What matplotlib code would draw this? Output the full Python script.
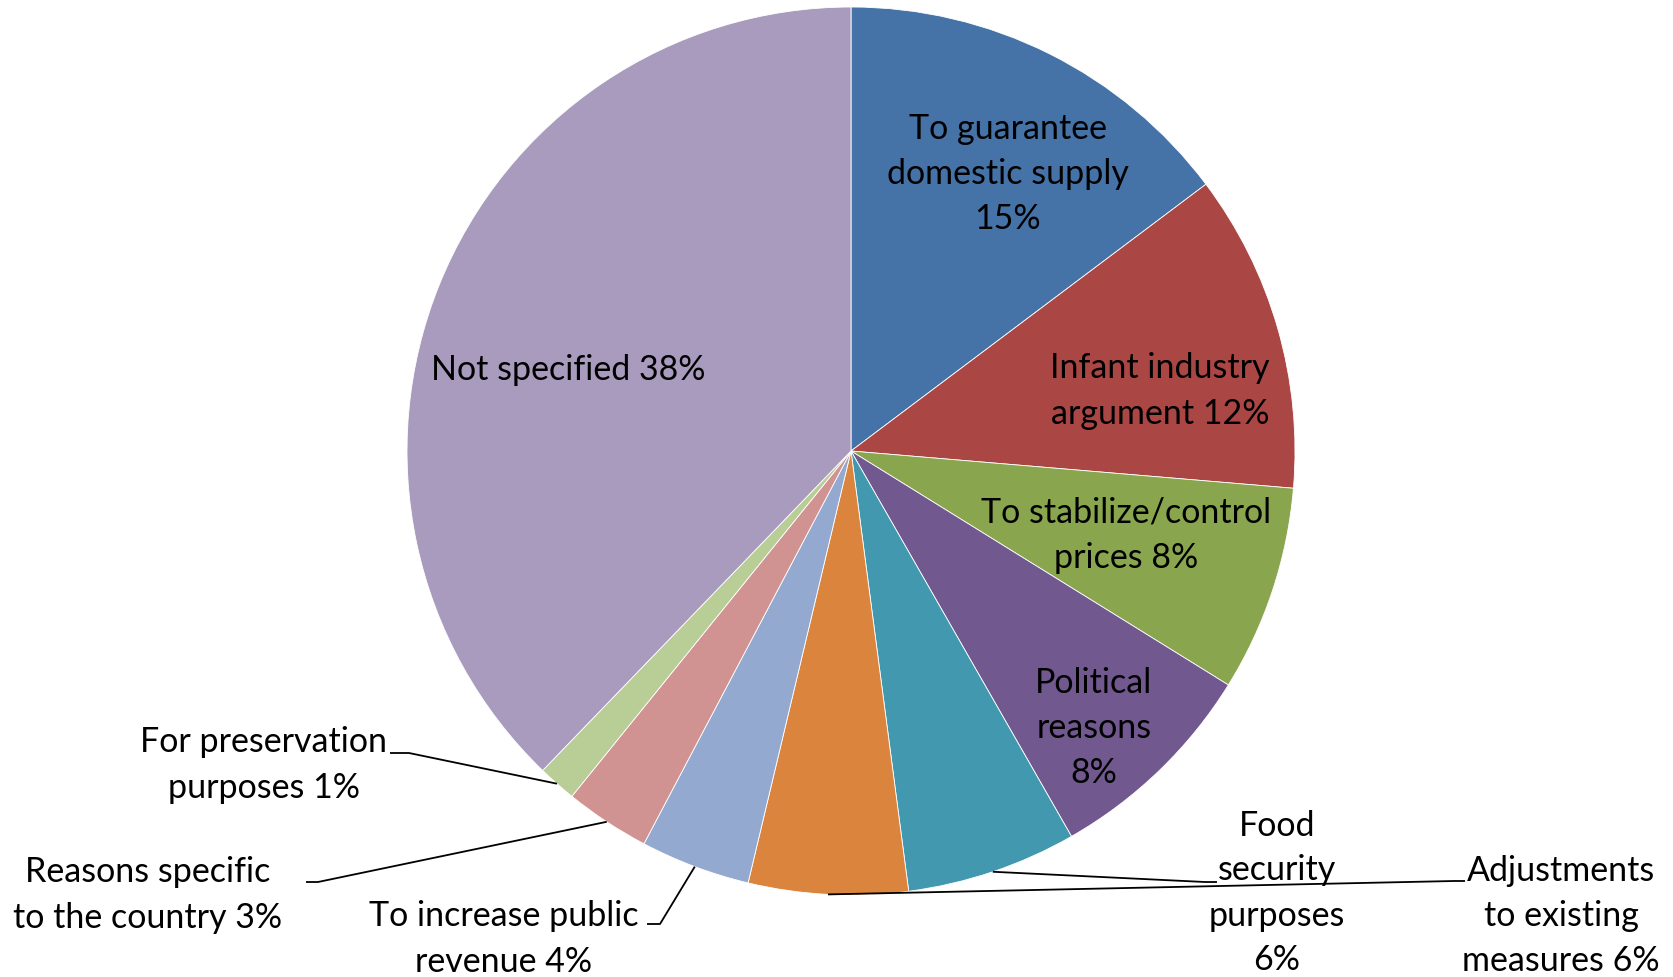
import matplotlib
matplotlib.use("Agg")
import matplotlib.pyplot as plt
import numpy as np

plt.rcParams['font.family'] = ['Lato', 'DejaVu Sans']

categories = ["To guarantee\ndomestic supply\n15%", "Infant industry\nargument 12%",
              "To stabilize/control\nprices 8%", "Political\nreasons\n8%",
              "Food\nsecurity\npurposes\n6%", "Adjustments\nto existing\nmeasures 6%",
              "To increase public\nrevenue 4%", "Reasons specific\nto the country 3%",
              "For preservation\npurposes 1%", "Not specified 38%"]
values = [14.75, 11.6, 7.5, 7.9, 6.2, 5.8, 4.0, 3.1, 1.4, 37.8]
colors = ["#4572A7", "#AA4643", "#89A54E", "#71588F", "#4198AF",
          "#DB843D", "#93A9CF", "#D19392", "#B9CD96", "#A99BBD"]

W, H = 1674, 978
CX, CY, RPX = 851, 452, 444

fig = plt.figure(figsize=(W / 100, H / 100), dpi=100)
ax = fig.add_axes([0, 0, 1, 1])

def p(px, py):
    return ((px - CX) / RPX, (CY - py) / RPX)

wedges, _ = ax.pie(values, colors=colors, startangle=90, counterclock=False,
                   radius=1.0, center=(0, 0),
                   wedgeprops=dict(edgecolor='white', linewidth=0.6))
ax.set_xlim(-CX / RPX, (W - CX) / RPX)
ax.set_ylim(-(H - CY) / RPX, CY / RPX)
ax.set_aspect('equal')
ax.axis('off')

FS = 24.5
# label positions (pixels) and leader elbows
label_pos = [(1008, 174), (1160, 391), (1126, 535), (1094, 728), (1277, 893),
             (1561, 916), (504, 939), (148, 895), (264, 765), (568, 370)]
leaders = {4: [(1205, 883), (1217, 883)],
           5: [(1454, 882), (1465, 882)],
           6: [(660, 925), (647, 925)],
           7: [(318, 883), (306, 883)],
           8: [(409, 754), (390, 754)]}

for i, (w, lab) in enumerate(zip(wedges, categories)):
    x, y = p(*label_pos[i])
    ax.text(x, y, lab, ha='center', va='center', fontsize=FS, color='black',
            linespacing=1.5)
    if i in leaders:
        mid = np.deg2rad((w.theta1 + w.theta2) / 2)
        ax_x, ax_y = np.cos(mid), np.sin(mid)
        pts = [(ax_x, ax_y)] + [p(*q) for q in leaders[i]]
        xs, ys = zip(*pts)
        ax.plot(xs, ys, color='black', lw=1.3, solid_capstyle='butt')

fig.savefig("out.png", dpi=100, facecolor='white')
